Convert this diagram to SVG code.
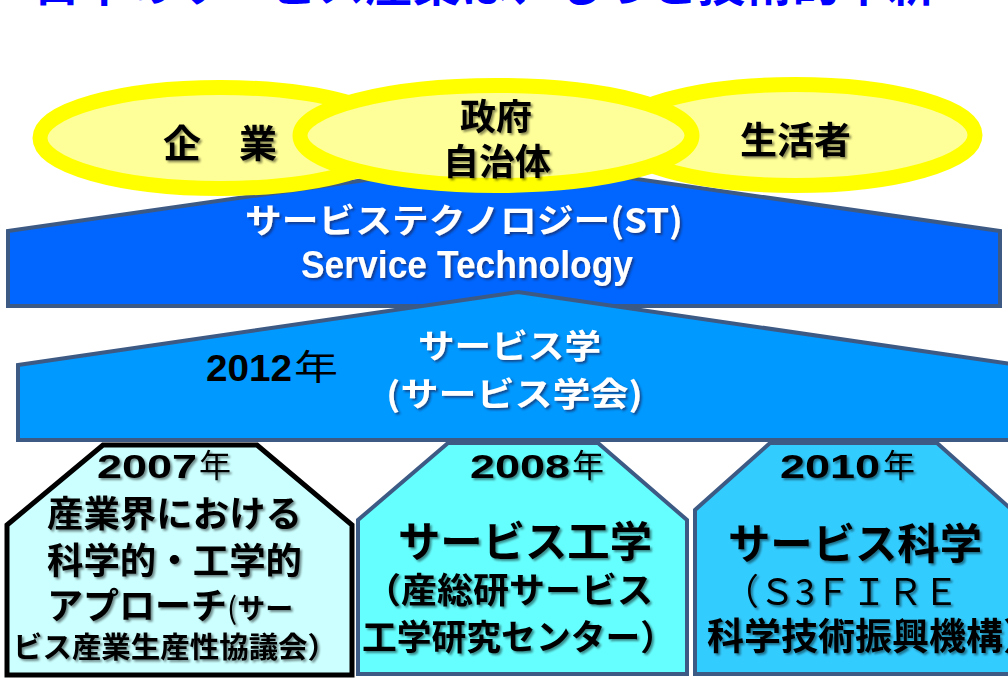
<svg xmlns="http://www.w3.org/2000/svg" width="1008" height="678" viewBox="0 0 1008 678">
<defs>
<filter id="sh" x="-10%" y="-10%" width="130%" height="140%">
<feDropShadow dx="2" dy="2" stdDeviation="1" flood-color="#000" flood-opacity="0.45"/>
</filter>
<filter id="shw" x="-10%" y="-10%" width="130%" height="140%">
<feDropShadow dx="2" dy="2" stdDeviation="1" flood-color="#1a2a60" flood-opacity="0.7"/>
</filter>
</defs>
<style>
.jp{font-family:"Noto Sans CJK JP","Noto Sans CJK SC",sans-serif;}
.lat{font-family:"Liberation Sans","Noto Sans CJK JP",sans-serif;}
.b{font-weight:700;}
.n{font-weight:400;}
.ell{fill:#FFFF99;stroke:#FFFF00;stroke-width:15;}
.blk{fill:#000;}
.wht{fill:#fff;}
.pent{stroke:#3D5A85;stroke-width:4;stroke-linejoin:miter;}
</style>
<rect width="1008" height="678" fill="#fff"/>

<g id="title">
<text class="jp b" x="33" y="1" font-size="47" fill="#0000FF" textLength="902" lengthAdjust="spacingAndGlyphs">日本のサービス産業は、もっと技術的革新</text>
</g>

<g id="box-2007">
<polygon points="103,445 257,445 352,525 352,675 7,675 7,525" fill="#CCFFFF" stroke="#000" stroke-width="5"/>
<g filter="url(#sh)" class="blk">
<text class="lat b" x="97" y="478" font-size="33" textLength="100" lengthAdjust="spacingAndGlyphs">2007</text>
<text class="jp n" x="199" y="477" font-size="32">年</text>
<text class="jp b" x="47" y="527" font-size="36" textLength="255" lengthAdjust="spacingAndGlyphs">産業界における</text>
<text class="jp b" x="47" y="574" font-size="36" textLength="255" lengthAdjust="spacingAndGlyphs">科学的・工学的</text>
<text class="jp b" x="47" y="619" font-size="36"><tspan>アプローチ</tspan><tspan font-size="30" font-weight="400">(</tspan><tspan font-size="28">サー</tspan></text>
<text class="jp b" x="13" y="658" font-size="29" textLength="324" lengthAdjust="spacingAndGlyphs">ビス産業生産性協議会）</text>
</g>
</g>

<g id="box-2008">
<polygon class="pent" points="448,443 598,443 687,520 687,674 358,674 358,520" fill="#66FFFF"/>
<g filter="url(#sh)" class="blk">
<text class="lat b" x="470" y="478" font-size="33" textLength="100" lengthAdjust="spacingAndGlyphs">2008</text>
<text class="jp n" x="572" y="477" font-size="32">年</text>
<text class="jp b" x="398" y="557" font-size="42" textLength="254" lengthAdjust="spacingAndGlyphs">サービス工学</text>
<text class="jp b" x="365" y="603" font-size="35" textLength="288" lengthAdjust="spacingAndGlyphs">（産総研サービス</text>
<text class="jp b" x="362" y="650" font-size="35" textLength="313" lengthAdjust="spacingAndGlyphs">工学研究センター）</text>
</g>
</g>

<g id="box-2010">
<polygon class="pent" points="770,443 937,443 1012,510 1012,674 695,674 695,510" fill="#33CCFF"/>
<g filter="url(#sh)" class="blk">
<text class="lat b" x="780" y="478" font-size="33" textLength="100" lengthAdjust="spacingAndGlyphs">2010</text>
<text class="jp n" x="883" y="477" font-size="32">年</text>
<text class="jp b" x="728" y="559" font-size="42" textLength="254" lengthAdjust="spacingAndGlyphs">サービス科学</text>
<text class="jp n" x="723" y="605" font-size="36" font-weight="500">（Ｓ3ＦＩＲＥ</text>
<text class="jp b" x="707" y="650" font-size="37" textLength="333" lengthAdjust="spacingAndGlyphs">科学技術振興機構）</text>
</g>
</g>

<g id="service-technology">
<polygon class="pent" points="8,231 505,160 1000,231 1000,306 8,306" fill="#0066FF"/>
<g filter="url(#shw)" class="wht">
<text class="jp b" x="245" y="233" font-size="34" textLength="438" lengthAdjust="spacingAndGlyphs">サービステクノロジー(ST)</text>
<text class="lat b" x="301" y="278" font-size="39" textLength="332" lengthAdjust="spacingAndGlyphs">Service Technology</text>
</g>
</g>

<g id="service-science">
<polygon class="pent" points="18,365 518,292 1018,365 1018,440 18,440" fill="#0099FF"/>
<g filter="url(#shw)" class="wht">
<text class="jp b" x="418" y="358" font-size="33" textLength="183" lengthAdjust="spacingAndGlyphs">サービス学</text>
<text class="jp b" x="386" y="406" font-size="33" textLength="257" lengthAdjust="spacingAndGlyphs">(サービス学会)</text>
</g>
<text class="lat b blk" x="206" y="381" font-size="36" textLength="86" lengthAdjust="spacingAndGlyphs">2012</text>
<text class="jp n blk" x="294" y="380" font-size="35" textLength="44" lengthAdjust="spacingAndGlyphs">年</text>
</g>

<g id="kigyo">
<ellipse class="ell" cx="220" cy="138" rx="180" ry="50.5"/>
</g>
<g id="seikatsusha">
<ellipse class="ell" cx="795" cy="135" rx="180" ry="50.5"/>
<text class="jp b blk" x="740" y="154" font-size="37" filter="url(#sh)">生活者</text>
</g>
<g id="seifu">
<ellipse class="ell" cx="496" cy="135.5" rx="196" ry="50"/>
<g filter="url(#sh)" class="blk">
<text class="jp b" x="460" y="130" font-size="36">政府</text>
<text class="jp b" x="443" y="175" font-size="36">自治体</text>
</g>
</g>
<g id="kigyo-label">
<text class="jp b blk" x="163" y="157" font-size="38" filter="url(#sh)">企　業</text>
</g>
</svg>
